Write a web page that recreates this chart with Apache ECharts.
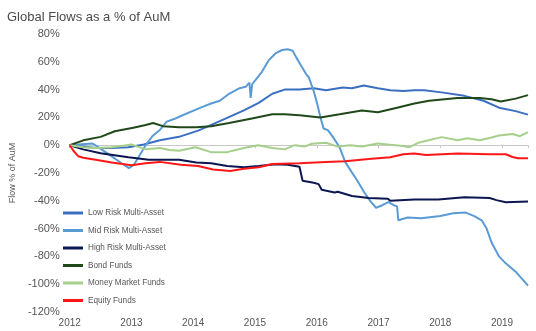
<!DOCTYPE html>
<html>
<head>
<meta charset="utf-8">
<script src="https://cdn.jsdelivr.net/npm/echarts@6/dist/echarts.min.js"></script>
<style>
html,body{margin:0;padding:0;background:#fff;}
#c{width:536px;height:331px;}
</style>
</head>
<body>
<div id="c"></div>
<script>
var seriesNames = ['Low Risk Multi-Asset','Mid Risk Multi-Asset','High Risk Multi-Asset','Bond Funds','Money Market Funds','Equity Funds'];
var yTicks = [-120,-100,-80,-60,-40,-20,0,20,40,60,80];
var xYears = [2012,2013,2014,2015,2016,2017,2018,2019];

var lowDates = [2012.00,2012.22,2012.42,2012.68,2012.95,2013.20,2013.46,2013.77,2014.08,2014.44,2014.82,2015.06,2015.28,2015.48,2015.72,2015.95,2016.15,2016.42,2016.57,2016.76,2016.99,2017.19,2017.40,2017.58,2017.74,2018.02,2018.39,2018.70,2018.95,2019.22,2019.42];
var lowValues = [0,-1,-2,-2,-1.4,0.5,3.6,6,10.5,17.5,25,30.5,37,40,40,41,39.5,41.5,41,43,41,39.6,39,39.6,39.5,38,35.5,32,27,24.5,22];

var midDates = [2012.00,2012.14,2012.37,2012.45,2012.68,2012.84,2012.96,2013.04,2013.15,2013.23,2013.35,2013.46,2013.57,2013.70,2013.80,2014.12,2014.29,2014.43,2014.58,2014.75,2014.85,2014.91,2014.93,2014.955,2015.10,2015.22,2015.33,2015.44,2015.53,2015.61,2015.67,2015.75,2015.83,2015.87,2015.95,2016.00,2016.06,2016.11,2016.18,2016.26,2016.37,2016.46,2016.56,2016.65,2016.77,2016.88,2016.96,2017.07,2017.16,2017.24,2017.30,2017.32,2017.47,2017.69,2018.00,2018.21,2018.41,2018.55,2018.67,2018.75,2018.83,2018.95,2019.06,2019.22,2019.42];
var midValues = [0,0.5,1.2,-1,-8,-13,-16.5,-14,-6,0,7,11,17,19,21,27,30,32,37,41,42,45,34,44,52,61,66,68.5,69,68,63,57,51,49,39,31,20,12,10.8,6,-1.5,-12,-19,-25,-34,-41,-45,-43,-41,-43,-44,-54,-52,-52.5,-51,-49,-48.5,-51,-54,-60,-70,-80,-85,-91,-101];

var highDates = [2012.00,2012.22,2012.50,2012.95,2013.28,2013.77,2014.05,2014.29,2014.55,2014.82,2015.06,2015.33,2015.53,2015.72,2015.75,2015.77,2015.95,2016.03,2016.08,2016.29,2016.34,2016.57,2016.84,2017.15,2017.19,2017.58,2017.97,2018.39,2018.80,2018.91,2019.06,2019.42];
var highValues = [0,-3,-5.8,-8.6,-10.5,-10.5,-12.5,-13,-15,-15.8,-15,-13.7,-14,-15.5,-16,-25.5,-27,-28,-32,-34,-33.5,-36.5,-38,-38.5,-40,-39,-39,-37.4,-38,-39.5,-41,-40.5];

var bondDates = [2012.00,2012.22,2012.50,2012.73,2013.03,2013.23,2013.35,2013.51,2013.77,2014.05,2014.29,2014.58,2014.97,2015.28,2015.48,2015.72,2016.06,2016.37,2016.73,2016.99,2017.30,2017.58,2017.82,2018.28,2018.64,2018.83,2018.98,2019.22,2019.42];
var bondValues = [0,3.5,6,10,12.5,14.5,16,13.7,13,13,13.7,16,19.4,22.3,22.3,21.5,20,22.3,25,23.7,27,30,32,34,34,33,31.5,33.5,36];

var moneyDates = [2012.00,2012.22,2012.42,2012.68,2012.84,2013.00,2013.10,2013.23,2013.46,2013.62,2013.77,2014.04,2014.29,2014.55,2014.82,2015.05,2015.28,2015.48,2015.64,2015.80,2015.92,2016.15,2016.34,2016.54,2016.73,2016.99,2017.19,2017.40,2017.50,2017.66,2018.02,2018.28,2018.44,2018.64,2018.83,2018.95,2019.17,2019.29,2019.42];
var moneyValues = [0,-1.5,-2,-1.4,-0.5,0.5,-1,-3,-2,-3.5,-4,-1.5,-5,-5,-2,0,-2,-3,0,-1,1,1.8,-1,0,-1,1.2,0.3,-0.5,-1.4,2,5.8,3.6,5,3.6,5.5,7,8,6.5,9.4];

var equityDates = [2012.00,2012.06,2012.14,2012.22,2012.42,2012.68,2013.00,2013.23,2013.46,2013.80,2014.08,2014.32,2014.60,2014.82,2015.06,2015.28,2015.72,2016.15,2016.46,2016.84,2017.19,2017.40,2017.58,2017.77,2018.28,2018.80,2019.06,2019.17,2019.26,2019.42];
var equityValues = [0,-4,-8,-9,-10.5,-12.5,-14.4,-13,-12,-14,-15,-17.5,-18.5,-17,-15.8,-13.5,-13,-12,-11.5,-10,-8.6,-6.5,-6,-7,-6,-6.5,-6.5,-8.5,-9.4,-9.4];

var colors = ['#3b6fc2','#5b9bd5','#0c1650','#21481a','#a5cf8a','#ff1616'];

function pairs(xs, ys){ return xs.map(function(x,i){ return [x, ys[i]]; }); }
var allDates = [lowDates, midDates, highDates, bondDates, moneyDates, equityDates];
var allValues = [lowValues, midValues, highValues, bondValues, moneyValues, equityValues];

var xMin = xYears[0];
var xMax = 2019.42;

var series = seriesNames.map(function(n, i){
  return {
    name: n, type: 'line', xAxisIndex: 0, yAxisIndex: 0,
    data: pairs(allDates[i], allValues[i]),
    showSymbol: false, symbol: 'none', smooth: false,
    lineStyle: { width: 2, color: colors[i] },
    itemStyle: { color: colors[i] },
    emphasis: { disabled: true },
    animation: false
  };
});

var chart = echarts.init(document.getElementById('c'), null, {renderer: 'canvas'});
chart.setOption({
  backgroundColor: '#ffffff',
  animation: false,
  title: {
    text: 'Global Flows as a % of AuM',
    left: 2, top: 6,
    textStyle: { fontFamily: 'Liberation Sans, Arial, sans-serif', fontSize: 13, fontWeight: 'normal', color: '#4a4a4a' }
  },
  grid: { left: 51, right: 8, top: 34, bottom: 19, containLabel: false },
  legend: {
    orient: 'vertical',
    left: 58, top: 202,
    itemWidth: 20, itemHeight: 3, itemGap: 5.5,
    icon: 'rect',
    data: seriesNames,
    textStyle: { fontFamily: 'Liberation Sans, Arial, sans-serif', fontSize: 8.2, color: '#555555', lineHeight: 12 }
  },
  xAxis: [
    {
      type: 'value', min: xMin, max: xMax, interval: 1,
      axisLine: { show: false, onZero: false },
      axisTick: { show: false },
      splitLine: { show: false },
      axisLabel: {
        margin: 6, color: '#555555', fontSize: 10, fontFamily: 'Liberation Sans, Arial, sans-serif',
        showMaxLabel: false,
        formatter: function(v){ return xYears.indexOf(v) >= 0 ? String(v) : ''; }
      }
    },
    {
      type: 'value', min: xMin, max: xMax, interval: 1, position: 'bottom',
      axisLine: { show: true, onZero: true, lineStyle: { color: '#c8c8c8', width: 1 } },
      axisTick: { show: true, length: 3, lineStyle: { color: '#c8c8c8' } },
      splitLine: { show: false },
      axisLabel: { show: false }
    }
  ],
  yAxis: {
    type: 'value', min: yTicks[0], max: yTicks[yTicks.length-1], interval: 20,
    name: 'Flow % of AuM', nameLocation: 'middle', nameGap: 43, nameRotate: 90,
    nameTextStyle: { fontFamily: 'Liberation Sans, Arial, sans-serif', fontSize: 9, color: '#555555' },
    axisLine: { show: false },
    axisTick: { show: false },
    splitLine: { show: false },
    axisLabel: {
      margin: 10, color: '#555555', fontSize: 11, fontFamily: 'Liberation Sans, Arial, sans-serif',
      formatter: function(v){ return v + '%'; }
    }
  },
  series: series
});
</script>
</body>
</html>
